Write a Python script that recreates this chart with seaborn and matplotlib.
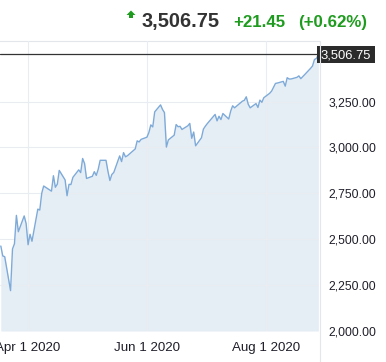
import pandas as pd
import matplotlib.pyplot as plt
import matplotlib.dates as mdates
from matplotlib.lines import Line2D
from matplotlib.patches import Polygon, Rectangle
from matplotlib.ticker import FuncFormatter, FixedLocator
import seaborn as sns

# Daily closes, Mar 18 - Aug 28 2020
holidays = ['2020-04-10', '2020-05-25', '2020-07-03']
mar = [2463, 2409, 2405, 2220, 2447, 2475, 2630, 2541, 2627, 2585]
apr = [2470, 2527, 2489, 2664, 2659, 2750, 2790, 2762, 2846, 2783, 2800,
       2875, 2823, 2737, 2799, 2798, 2837, 2878, 2863, 2940, 2912]
may = [2831, 2843, 2868, 2848, 2881, 2930, 2930, 2870, 2820, 2853, 2864,
       2954, 2923, 2972, 2949, 2955, 2992, 3036, 3030, 3044]
jun = [3056, 3081, 3123, 3112, 3194, 3232, 3207, 3190, 3002, 3041, 3067,
       3125, 3113, 3115, 3098, 3118, 3131, 3050, 3084, 3009, 3053, 3100]
jul = [3116, 3130, 3180, 3145, 3170, 3152, 3185, 3155, 3198, 3227, 3216,
       3225, 3252, 3257, 3276, 3236, 3216, 3239, 3218, 3258, 3246, 3271]
aug = [3295, 3307, 3328, 3349, 3351, 3360, 3334, 3380, 3373, 3373, 3382,
       3390, 3375, 3386, 3397, 3431, 3444, 3479, 3485, 3506.75]

last_price = 3506.75
change = '+21.45'
change_pct = '(+0.62%)'
y_ticks = [2000, 2250, 2500, 2750, 3000, 3250]
x_ticks = ['2020-04-01', '2020-06-01', '2020-08-01']

dates = pd.bdate_range('2020-03-18', '2020-08-28')
dates = dates[~dates.isin(pd.to_datetime(holidays))]
closes = mar + apr + may + jun + jul + aug
df = pd.DataFrame({'date': dates, 'close': closes})

sns.set_style('white')
plt.rcParams['font.family'] = ['Liberation Sans', 'DejaVu Sans']

W, H = 386, 362
fig = plt.figure(figsize=(W / 100, H / 100), dpi=100)


def px(x, y):
    return (x / W, 1 - y / H)


ax = fig.add_axes([0, (H - 331) / H, 319 / W, (331 - 41) / H])

line_col = '#7eaad8'
fill_col = '#e5edf5'
ax.fill_between(df['date'], df['close'], 2000, color=fill_col, lw=0, zorder=1)
sns.lineplot(data=df, x='date', y='close', ax=ax, color=line_col, lw=1.0, zorder=3)

ax.set_ylim(2000, 3580)
ax.set_xlim(pd.Timestamp('2020-03-17 14:00'), pd.Timestamp('2020-08-28 08:00'))

ax.yaxis.tick_right()
ax.yaxis.set_major_locator(FixedLocator(y_ticks))
ax.yaxis.set_major_formatter(FuncFormatter(lambda v, p: f'{v:,.2f}'))
ax.xaxis.set_major_locator(FixedLocator([mdates.date2num(pd.Timestamp(d)) for d in x_ticks]))
ax.xaxis.set_major_formatter(FuncFormatter(
    lambda v, p: (lambda d: f'{d:%b} {d.day} {d.year}')(mdates.num2date(v))))
ax.tick_params(axis='y', length=0, pad=7, labelsize=8.7, labelcolor='#1f1f2a')
ax.tick_params(axis='x', length=0, pad=8, labelsize=9.6, labelcolor='#1f1f2a')
ax.set_xlabel('')
ax.set_ylabel('')

ax.grid(True, color='#e9edf2', lw=0.8, zorder=2)
ax.set_axisbelow(False)
for s in ['left', 'bottom', 'right']:
    ax.spines[s].set_visible(False)
ax.spines['top'].set_color('#e3e6ea')
ax.spines['top'].set_linewidth(0.8)

# last price line
ax.axhline(last_price, color='#333333', lw=0.9, zorder=4)

# separator between plot and price scale
fig.add_artist(Line2D([319.5 / W, 319.5 / W], [0, 1 - 41 / H], color='#e3e6ea', lw=0.8))

# last price tag
x0, y0 = px(317, 63)
fig.add_artist(Rectangle((x0, y0), 58 / W, 17 / H, color='#2b2b2b', lw=0))
fig.text(*px(346, 54.5), f'{last_price:,.2f}', color='white', fontsize=9.4,
         ha='center', va='center_baseline')

# header
green = '#1f9c1f'
fig.add_artist(Polygon([px(131, 10.5), px(135.5, 15), px(133, 15), px(133, 18),
                        px(129, 18), px(129, 15), px(126.5, 15)],
                       closed=True, color=green, lw=0))
fig.text(*px(142, 27), f'{last_price:,.2f}', color='#333333', fontsize=14.4,
         fontweight='bold', ha='left', va='baseline')
fig.text(*px(233, 27), change, color=green, fontsize=12.2,
         fontweight='bold', ha='left', va='baseline')
fig.text(*px(298, 27), change_pct, color=green, fontsize=12.2,
         fontweight='bold', ha='left', va='baseline')

plt.savefig('out.png', dpi=100)
